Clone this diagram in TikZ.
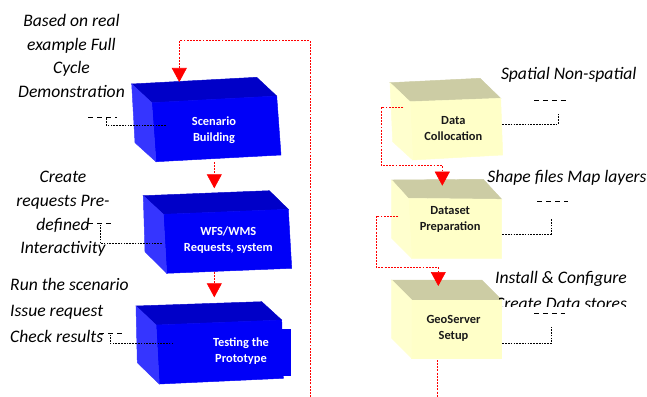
\documentclass[tikz,border=0pt]{standalone}
\usepackage{fontspec}
\setmainfont{Carlito}
\usetikzlibrary{arrows.meta}
\definecolor{blueTop}{HTML}{0000C8}
\definecolor{blueLeft}{HTML}{3535FF}
\definecolor{blueFront}{HTML}{0000F8}
\definecolor{sandTop}{HTML}{CCCCA4}
\definecolor{sandLeft}{HTML}{FFFFCE}
\definecolor{sandFront}{HTML}{FFFFC8}
\definecolor{flowRed}{HTML}{FF0000}
\begin{document}
\begin{tikzpicture}[x=0.03cm,y=-0.03cm,
		note/.style={font=\fontsize{15}{20.3}\selectfont\itshape,align=center,inner sep=0},
		boxtext/.style={font=\fontsize{10.6}{13.6}\selectfont\bfseries,align=center,inner sep=0},
		flow/.style={draw=flowRed,line width=0.45,dash pattern=on 1.6pt off 1.1pt},
		flowtip/.style={flow,-{Triangle[width=4.5mm,length=4.2mm,fill=flowRed]}},
		leader/.style={line width=0.5,dash pattern=on 1.4pt off 1pt},
		underline/.style={line width=0.6,dash pattern=on 4.2pt off 3.4pt}]
		\useasboundingbox (0,0) rectangle (647,397);
		% blue blocks
		\filldraw [fill=blueTop,draw=blueTop] (131.7,84) -- (256.7,77.3) -- (276.7,96) -- (151.7,102.7) -- cycle;
		\filldraw [fill=blueFront,draw=blueFront] (151.7,102.7) -- (276.7,96) -- (281,155) -- (156,161.7) -- cycle;
		\filldraw [fill=blueLeft,draw=blueLeft] (131.7,84) -- (151.7,102.7) -- (156,161.7) -- (135,142.7) -- cycle;
		\filldraw [fill=blueTop,draw=blueTop] (143.3,195.7) -- (269.3,190.7) -- (288.3,209.3) -- (163.3,214.3) -- cycle;
		\filldraw [fill=blueFront,draw=blueFront] (163.3,214.3) -- (288.3,209.3) -- (291.7,268.3) -- (166.7,273.3) -- cycle;
		\filldraw [fill=blueLeft,draw=blueLeft] (143.3,195.7) -- (163.3,214.3) -- (166.7,273.3) -- (145,251.7) -- cycle;
		\filldraw [fill=blueTop,draw=blueTop] (136,306) -- (261.7,301.7) -- (281.7,320) -- (156,325) -- cycle;
		\filldraw [fill=blueFront,draw=blueFront] (156,325) -- (281.7,320) -- (283.3,378.3) -- (159.3,384) -- cycle;
		\filldraw [fill=blueFront,draw=blueFront] (281,329.3) rectangle (290,375);
		\filldraw [fill=blueLeft,draw=blueLeft] (136,306) -- (156,325) -- (159.3,384) -- (137.3,362.7) -- cycle;
		% sand blocks
		\filldraw [fill=sandTop,draw=sandTop] (390,82.7) -- (480,78.3) -- (500.7,98.3) -- (410,101.7) -- cycle;
		\filldraw [fill=sandFront,draw=sandFront] (410,101.7) -- (500.7,98.3) -- (502.7,155) -- (412.7,160) -- cycle;
		\filldraw [fill=sandLeft,draw=sandLeft] (390,82.7) -- (410,101.7) -- (412.7,160) -- (392.7,141.7) -- cycle;
		\filldraw [fill=sandTop,draw=sandTop] (391.7,180) -- (483.3,179.3) -- (501.7,199.3) -- (408.3,198.3) -- cycle;
		\filldraw [fill=sandFront,draw=sandFront] (408.3,198.3) -- (501.7,199.3) -- (501.7,258.3) -- (411.7,258.3) -- cycle;
		\filldraw [fill=sandLeft,draw=sandLeft] (391.7,180) -- (408.3,198.3) -- (411.7,258.3) -- (391.7,238.3) -- cycle;
		\filldraw [fill=sandTop,draw=sandTop] (391.7,280) -- (481.7,280) -- (501.7,300) -- (411.7,300) -- cycle;
		\filldraw [fill=sandFront,draw=sandFront] (411.7,300) -- (501.7,300) -- (501.7,358.3) -- (411.7,358.3) -- cycle;
		\filldraw [fill=sandLeft,draw=sandLeft] (391.7,280) -- (411.7,300) -- (411.7,358.3) -- (391.7,338.3) -- cycle;
		% block texts
		\node [boxtext,text=white] (scenario) at (214,130.4) {Scenario\\Building};
		\node [boxtext,text=white] (requests) at (228.3,240.4) {WFS/WMS\\Requests, system};
		\node [boxtext,text=white] (testing) at (241,351.4) {Testing the\\Prototype};
		\node [boxtext,text=black!90] (collocation) at (453.3,128.4) {Data\\Collocation};
		\node [boxtext,text=black!90] (preparation) at (450.2,219.5) {Dataset\\Preparation};
		\node [boxtext,text=black!90] (geoserver) at (453.5,328.6) {GeoServer\\Setup};
		% callout texts
		\node [note] (cycle) at (71.5,56) {Based on real\\example Full\\Cycle\\Demonstration};
		\node [note] (interact) at (63,214) {Create\\requests Pre-\\defined\\Interactivity};
		\node [note,align=left,anchor=west,font=\fontsize{15}{22.2}\selectfont\itshape] (run) at (10,310) {Run the scenario\\Issue request\\Check results};
		\node [note,anchor=base] (spatial) at (568.7,79.3) {Spatial Non-spatial};
		\node [note,anchor=base] (shape) at (567,182.7) {Shape files Map layers};
		\begin{scope}
			\clip (488,260) -- (647,260) -- (647,306.5) -- (499,306.5) -- (499,294) -- (488,294) -- cycle;
			\node [note,anchor=base,font=\fontsize{15}{22.2}\selectfont\itshape] (install) at (561,309.5) {Install \& Configure\\Create Data stores};
		\end{scope}
		% leader ends
		\coordinate (L1) at (165.7,125.7);
		\coordinate (L2) at (161.7,243.3);
		\coordinate (L3) at (173.3,343.3);
		\coordinate (R1) at (502.3,124);
		\coordinate (R2) at (502.3,234);
		\coordinate (R3) at (502.3,343.3);
		\draw [underline] (88.3,117.7) -- (116.7,117.7);
		\draw [leader] (L1) -- (106.7,125.7) -- (106.7,117.7);
		\draw [underline] (88.3,223.3) -- (111.7,223.3);
		\draw [leader] (L2) -- (100,243.3) -- (100,223.3);
		\draw [underline] (99.3,333.3) -- (123.3,333.3);
		\draw [leader] (L3) -- (110,343.3) -- (110,333.3);
		\draw [underline] (534,100) -- (568.3,100);
		\draw [leader] (R1) -- (558.3,124) -- (558.3,114);
		\draw [underline] (537.3,201.7) -- (568.3,201.7);
		\draw [leader] (R2) -- (551,234) -- (551,218.3);
		\draw [underline] (534,313.3) -- (565,313.3);
		\draw [leader] (R3) -- (551.7,343.3) -- (551.7,326.7);
		% flow connectors
		\coordinate (loop) at (310,397);
		\coordinate (scenarioTop) at (179.3,82);
		\coordinate (scenarioBot) at (214.3,162);
		\coordinate (requestsTop) at (214.3,188.3);
		\coordinate (requestsBot) at (214.3,271.7);
		\coordinate (testingTop) at (214.3,297.3);
		\coordinate (collocationOut) at (403.3,107.7);
		\coordinate (preparationTop) at (442.3,185.7);
		\coordinate (preparationOut) at (398.3,216);
		\coordinate (geoserverTop) at (438.3,286);
		\coordinate (geoserverBot) at (437.3,360);
		\coordinate (exit) at (437.3,397);
		\draw [flowtip] (loop) -- (310,40.7) -- (179.3,40.7) -- (scenarioTop);
		\draw [flowtip] (scenarioBot) -- (requestsTop);
		\draw [flowtip] (requestsBot) -- (testingTop);
		\draw [flowtip] (collocationOut) -- (381,107.7) -- (381,165.7) -- (442.3,165.7) -- (preparationTop);
		\draw [flowtip] (preparationOut) -- (376,216) -- (376,267.3) -- (438.3,267.3) -- (geoserverTop);
		\draw [flow] (geoserverBot) -- (exit);
	\end{tikzpicture}
\end{document}
